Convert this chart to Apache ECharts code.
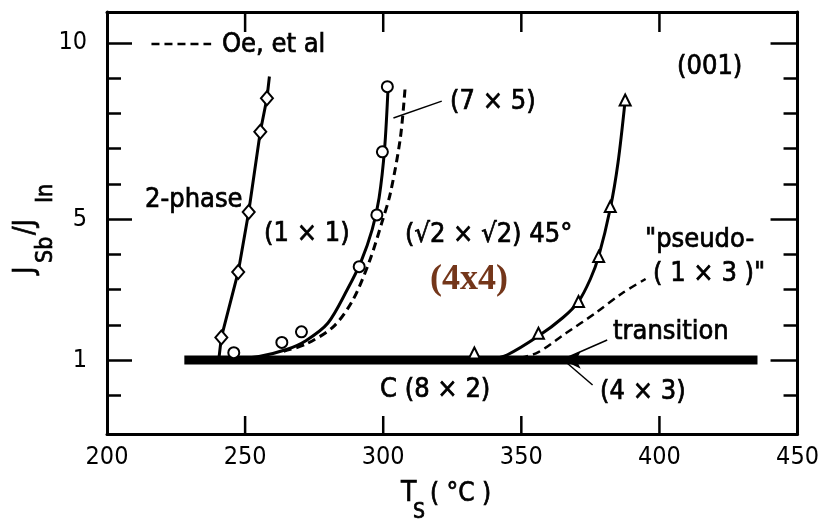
<!DOCTYPE html>
<html>
<head>
<meta charset="utf-8">
<script src="https://cdn.jsdelivr.net/npm/echarts@6/dist/echarts.min.js"></script>
<style>
  html, body { margin: 0; padding: 0; background: #fff; }
  #chart { width: 822px; height: 525px; }
</style>
</head>
<body>
<div id="chart"></div>
<script>
// Sb/In flux ratio versus substrate temperature, (001) surface phase boundaries

// Axis ticks
const xTickValues = [250, 300, 350, 400];
const yLabelValues = [1, 5, 10];
const yMinorValues = [0, 2, 3, 4, 6, 7, 8, 9];

// 2-phase / (1x1) boundary (diamonds)
const twoPhaseT = [241.4, 247.5, 251.3, 255.5, 257.9];
const twoPhaseR = [1.64, 3.50, 5.20, 7.48, 8.43];
const twoPhaseLineT = [240.6, 241.4, 247.5, 251.3, 255.5, 257.9, 258.8];
const twoPhaseLineR = [1.10, 1.64, 3.50, 5.20, 7.48, 8.43, 9.05];

// (1x1) / (√2x√2) boundary (circles)
const sqrtT = [245.9, 263.3, 270.4, 291.3, 297.7, 299.7, 301.5];
const sqrtR = [1.21, 1.50, 1.80, 3.65, 5.12, 6.91, 8.76];
const sqrtLineT = [244, 255, 265, 272, 280, 287, 292, 296, 298.5, 300.5, 301.8];
const sqrtLineR = [1.0, 1.1, 1.3, 1.55, 2.05, 3.0, 3.8, 4.7, 5.6, 7.0, 8.8];

// Oe et al. boundary (dashed)
const oeLineT = [264, 272, 282, 289, 295, 299.5, 302.6, 306.2, 308];
const oeLineR = [1.25, 1.45, 1.95, 2.7, 3.8, 4.9, 5.74, 7.3, 8.8];

// (√2x√2) / "pseudo-(1x3)" boundary (triangles)
const triT = [333.0, 356.2, 370.7, 378.0, 382.2, 387.6];
const triR = [1.20, 1.76, 2.66, 3.94, 5.36, 8.38];
const triLineT = [338, 345, 356.2, 365, 370.7, 375, 378, 382.2, 385, 387.6];
const triLineR = [1.0, 1.15, 1.68, 2.2, 2.66, 3.3, 3.94, 5.3, 6.6, 8.38];

// "pseudo-(1x3)" transition (dashed)
const pseudoT = [345, 355.3, 366.1, 376.8, 386.4, 395];
const pseudoR = [1.0, 1.19, 1.76, 2.33, 2.89, 3.3];

// C(8x2) reference level
const baseT = [228, 435.5];
const baseR = [1.0, 1.0];

// Legend sample and leader lines
const legendT = [216.1, 237.7];
const legendR = [9.97, 9.97];
const leader75T = [303.7, 321.2];
const leader75R = [7.87, 8.35];
const leaderTransT = [381.1, 366.0];
const leaderTransR = [1.57, 1.05];
const leader43T = [375.8, 366.0];
const leader43R = [0.29, 0.95];
const arrowT = [365.0];
const arrowR = [1.0];

function pairs(xs, ys) { return xs.map((x, i) => [x, ys[i]]); }

const FONT = '"DejaVu Sans Condensed", "DejaVu Sans", sans-serif';

const chart = echarts.init(document.getElementById('chart'));

const axisLineStyle = { color: '#000', width: 3 };
const tickStyle = { color: '#000', width: 2.5 };
const Y_MIN = -1.1, Y_MAX = 10.88;

function lineSeries(data, width, dashed, smooth) {
  return {
    type: 'line', data: data, symbol: 'none', smooth: smooth ? 0.3 : false,
    lineStyle: { color: '#000', width: width, type: dashed ? [8, 5] : 'solid', cap: 'butt' },
    z: 2, silent: true, clip: false
  };
}
function markerSeries(data, symbol, size) {
  return {
    type: 'scatter', data: data, symbol: symbol, symbolSize: size,
    itemStyle: { color: '#fff', borderColor: '#000', borderWidth: 2, opacity: 1 },
    z: 4, silent: true
  };
}
function label(text, x, y, opts) {
  opts = opts || {};
  const color = opts.color || '#000';
  return {
    type: 'text', x: x, y: y, z: 10, silent: true,
    style: {
      text: text, fill: color,
      font: opts.font || ('27px ' + FONT),
      stroke: color, lineWidth: opts.stroke === undefined ? 0.7 : opts.stroke,
      align: opts.align || 'left', verticalAlign: 'middle',
      textAlign: opts.align || 'left', textVerticalAlign: 'middle'
    }
  };
}

const labels = [
  label('Oe, et al', 222, 45),
  label('2-phase', 145, 200),
  label('(1 × 1)', 264, 234),
  label('(√2 × √2) 45°', 405, 235),
  label('(4x4)', 430, 280, { font: 'bold 36px "Liberation Serif", serif', color: '#74361a', stroke: 0 }),
  label('(7 × 5)', 450, 102),
  label('(001)', 677, 67),
  label('"pseudo-', 645, 240),
  label('( 1 × 3 )"', 653, 274),
  label('transition', 613, 332),
  label('C (8 × 2)', 380, 390),
  label('(4 × 3)', 600, 392),
  // x-axis title
  label('T', 401, 494, { font: '28px ' + FONT }),
  label('S', 413, 513, { font: '21px ' + FONT }),
  label('( °C )', 430, 494, { font: '26px ' + FONT }),
  // y-axis title, reading upward
  {
    type: 'group', x: 26, y: 274, rotation: Math.PI / 2,
    children: [
      label('J', 0, 0, { font: '28px ' + FONT }),
      label('Sb', 11, 20, { font: '23px ' + FONT }),
      label('/J', 39, 0, { font: '28px ' + FONT }),
      label('In', 71, 20, { font: '23px ' + FONT })
    ]
  }
];

const option = {
  backgroundColor: '#fff',
  animation: false,
  grid: { left: 107, right: 18, top: 12, bottom: 91 },
  xAxis: [
    {
      type: 'value', min: 200, max: 450, interval: 50, position: 'bottom',
      axisLine: { onZero: false, lineStyle: axisLineStyle },
      axisTick: { show: false },
      axisLabel: { color: '#000', fontSize: 25, fontFamily: FONT, margin: 11 },
      splitLine: { show: false }
    },
    {
      type: 'value', min: 200, max: 450, interval: 50, position: 'top',
      axisLine: { onZero: false, lineStyle: axisLineStyle },
      axisTick: { show: false },
      axisLabel: { show: false },
      splitLine: { show: false }
    }
  ],
  yAxis: [
    {
      type: 'value', min: Y_MIN, max: Y_MAX, position: 'left',
      axisLine: { show: true, lineStyle: axisLineStyle },
      axisTick: { show: true, inside: true, length: 25, lineStyle: tickStyle, customValues: yLabelValues },
      axisLabel: { color: '#000', fontSize: 25, fontFamily: FONT, margin: 20, customValues: yLabelValues },
      splitLine: { show: false }
    },
    {
      type: 'value', min: Y_MIN, max: Y_MAX, position: 'left',
      axisLine: { show: false },
      axisTick: { show: true, inside: true, length: 14, lineStyle: tickStyle, customValues: yMinorValues },
      axisLabel: { show: false },
      splitLine: { show: false }
    },
    {
      type: 'value', min: Y_MIN, max: Y_MAX, position: 'right',
      axisLine: { show: true, lineStyle: axisLineStyle },
      axisTick: { show: true, inside: true, length: 27, lineStyle: tickStyle, customValues: yLabelValues },
      axisLabel: { show: false },
      splitLine: { show: false }
    },
    {
      type: 'value', min: Y_MIN, max: Y_MAX, position: 'right',
      axisLine: { show: false },
      axisTick: { show: true, inside: true, length: 14, lineStyle: tickStyle, customValues: yMinorValues },
      axisLabel: { show: false },
      splitLine: { show: false }
    }
  ],
  series: [
    lineSeries(pairs(baseT, baseR), 9, false, false),
    lineSeries(pairs(twoPhaseLineT, twoPhaseLineR), 3, false, false),
    lineSeries(pairs(sqrtLineT, sqrtLineR), 3, false, true),
    lineSeries(pairs(oeLineT, oeLineR), 3, true, true),
    lineSeries(pairs(triLineT, triLineR), 3, false, true),
    lineSeries(pairs(pseudoT, pseudoR), 2.5, true, true),
    lineSeries(pairs(legendT, legendR), 2.5, true, false),
    lineSeries(pairs(leader75T, leader75R), 1.5, false, false),
    lineSeries(pairs(leaderTransT, leaderTransR), 1.5, false, false),
    lineSeries(pairs(leader43T, leader43R), 1.5, false, false),
    {
      type: 'scatter', data: pairs(arrowT, arrowR), symbol: 'arrow', symbolSize: [13, 18],
      symbolRotate: 90, itemStyle: { color: '#000', opacity: 1 }, z: 5, silent: true
    },
    markerSeries(pairs(twoPhaseT, twoPhaseR), 'diamond', [12, 14]),
    markerSeries(pairs(sqrtT, sqrtR), 'circle', 11),
    markerSeries(pairs(triT, triR), 'triangle', 11)
  ],
  graphic: labels
};

chart.setOption(option);

// Inward ticks on the top and bottom frame edges, placed through the axis scales
const yBottom = chart.convertToPixel({ yAxisIndex: 0 }, Y_MIN);
const yTop = chart.convertToPixel({ yAxisIndex: 0 }, Y_MAX);
const frameTicks = [];
xTickValues.forEach(v => {
  const x = chart.convertToPixel({ xAxisIndex: 0 }, v);
  frameTicks.push(
    { type: 'line', z: 100, silent: true,
      shape: { x1: x, y1: yBottom, x2: x, y2: yBottom - 18 },
      style: { stroke: '#000', lineWidth: 2.5 } },
    { type: 'line', z: 100, silent: true,
      shape: { x1: x, y1: yTop, x2: x, y2: yTop + 20 },
      style: { stroke: '#000', lineWidth: 2.5 } }
  );
});
chart.setOption({ graphic: labels.concat(frameTicks) });
</script>
</body>
</html>
